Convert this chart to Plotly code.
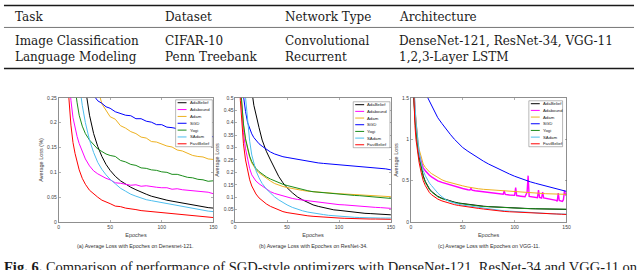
import plotly.graph_objects as go

# ---------------- data ----------------
table_header = ["Task", "Dataset", "Network Type", "Architecture"]
table_row1 = ["Image Classification", "CIFAR-10", "Convolutional", "DenseNet-121, ResNet-34, VGG-11"]
table_row2 = ["Language Modeling", "Penn Treebank", "Recurrent", "1,2,3-Layer LSTM"]

series_names = ["AdaBelief", "Adabound", "Adam", "SGD", "Yogi", "SAdam", "FastBelief"]
series_colors = ["#000000", "#ff00ff", "#edb120", "#0000ff", "#1a8c1a", "#4dbeee", "#ff0000"]

epochs = [1, 2, 3, 4, 5, 6, 7, 8, 10, 12, 14, 16, 18, 20, 23, 26, 30, 34, 38, 42, 46, 50, 55, 60,
          65, 70, 75, 80, 85, 90, 95, 100, 105, 110, 115, 120, 125, 130, 135, 140, 145, 150]

# (a) DenseNet-121
a_adabelief = [3.5,3.0,2.6,2.2,1.9,1.65,1.45,1.3,1.05,0.85,0.7,0.58,0.49,0.42,0.34,0.27,0.215,0.178,0.152,0.132,0.116,0.104,0.092,0.083,0.076,0.070,0.065,0.060,0.056,0.052,0.049,0.046,0.044,0.042,0.040,0.038,0.036,0.034,0.033,0.031,0.029,0.028]
a_adabound = [2.2,1.7,1.3,1.0,0.8,0.62,0.5,0.4,0.3,0.245,0.21,0.188,0.172,0.158,0.142,0.127,0.113,0.103,0.097,0.092,0.088,0.085,0.079,0.078,0.076,0.074,0.075,0.072,0.073,0.071,0.070,0.069,0.069,0.066,0.067,0.065,0.064,0.063,0.062,0.061,0.060,0.057]
a_adam = [3.0,2.6,2.3,2.0,1.8,1.6,1.45,1.3,1.1,0.95,0.82,0.72,0.64,0.57,0.49,0.43,0.36,0.31,0.268,0.238,0.225,0.212,0.207,0.194,0.189,0.182,0.178,0.171,0.169,0.162,0.161,0.157,0.153,0.151,0.145,0.143,0.138,0.134,0.132,0.131,0.127,0.126]
a_sgd = [2.3,2.0,1.8,1.6,1.45,1.3,1.2,1.1,0.95,0.82,0.72,0.63,0.56,0.5,0.43,0.37,0.3,0.255,0.244,0.239,0.232,0.229,0.222,0.219,0.215,0.214,0.208,0.208,0.203,0.201,0.196,0.196,0.191,0.190,0.188,0.188,0.184,0.185,0.180,0.178,0.176,0.171]
a_yogi = [1.8,1.5,1.25,1.05,0.9,0.78,0.68,0.6,0.47,0.38,0.32,0.27,0.24,0.215,0.193,0.178,0.165,0.157,0.147,0.142,0.137,0.134,0.132,0.124,0.121,0.116,0.114,0.109,0.108,0.105,0.104,0.101,0.100,0.096,0.096,0.093,0.090,0.089,0.086,0.085,0.082,0.083]
a_sadam = [3.0,2.5,2.0,1.7,1.4,1.2,1.0,0.85,0.65,0.52,0.43,0.37,0.32,0.28,0.235,0.2,0.165,0.14,0.12,0.106,0.095,0.086,0.077,0.068,0.062,0.056,0.052,0.048,0.045,0.043,0.041,0.039,0.038,0.035,0.034,0.031,0.029,0.028,0.026,0.024,0.022,0.021]
a_fastbelief = [2.0,1.5,1.1,0.85,0.65,0.5,0.42,0.34,0.25,0.195,0.16,0.138,0.12,0.105,0.088,0.076,0.064,0.056,0.05,0.044,0.041,0.037,0.032,0.031,0.028,0.027,0.025,0.023,0.022,0.021,0.019,0.018,0.017,0.016,0.016,0.014,0.013,0.012,0.012,0.011,0.010,0.009]

# (b) ResNet-34
b_adabelief = [2.5,2.2,1.95,1.7,1.5,1.33,1.18,1.05,0.85,0.7,0.6,0.53,0.47,0.43,0.38,0.33,0.285,0.25,0.215,0.183,0.158,0.138,0.118,0.101,0.089,0.078,0.069,0.063,0.058,0.053,0.049,0.047,0.044,0.041,0.039,0.037,0.035,0.034,0.032,0.031,0.030,0.029]
b_adabound = [1.4,1.05,0.82,0.66,0.55,0.47,0.41,0.36,0.295,0.25,0.215,0.19,0.175,0.165,0.154,0.145,0.132,0.122,0.115,0.110,0.105,0.100,0.095,0.091,0.088,0.085,0.082,0.079,0.077,0.074,0.072,0.070,0.069,0.067,0.065,0.063,0.062,0.060,0.059,0.058,0.057,0.055]
b_adam = [1.6,1.2,0.9,0.72,0.58,0.5,0.44,0.39,0.33,0.29,0.26,0.238,0.223,0.211,0.198,0.188,0.176,0.165,0.155,0.148,0.143,0.139,0.134,0.130,0.127,0.124,0.122,0.120,0.119,0.117,0.115,0.114,0.113,0.112,0.111,0.110,0.108,0.107,0.105,0.104,0.104,0.102]
b_sgd = [1.2,1.0,0.86,0.75,0.66,0.59,0.54,0.5,0.445,0.40,0.375,0.355,0.34,0.328,0.315,0.305,0.292,0.282,0.274,0.268,0.263,0.26,0.256,0.253,0.249,0.246,0.241,0.238,0.236,0.234,0.233,0.231,0.229,0.228,0.226,0.224,0.222,0.221,0.219,0.217,0.214,0.210]
b_yogi = [1.6,1.2,0.9,0.72,0.58,0.5,0.44,0.395,0.335,0.295,0.265,0.243,0.228,0.216,0.203,0.193,0.182,0.173,0.165,0.159,0.152,0.147,0.141,0.136,0.131,0.126,0.122,0.120,0.117,0.115,0.113,0.112,0.110,0.109,0.107,0.106,0.104,0.102,0.100,0.099,0.097,0.095]
b_sadam = [2.0,1.6,1.3,1.1,0.92,0.78,0.67,0.59,0.49,0.4,0.325,0.27,0.235,0.207,0.178,0.155,0.133,0.115,0.101,0.089,0.078,0.069,0.059,0.051,0.045,0.040,0.036,0.033,0.030,0.027,0.025,0.023,0.021,0.020,0.019,0.018,0.017,0.017,0.016,0.016,0.016,0.016]
b_fastbelief = [1.3,0.95,0.72,0.58,0.49,0.42,0.36,0.315,0.25,0.205,0.17,0.145,0.127,0.113,0.097,0.085,0.073,0.063,0.055,0.048,0.042,0.038,0.034,0.030,0.027,0.025,0.023,0.021,0.020,0.018,0.017,0.016,0.015,0.014,0.014,0.013,0.013,0.012,0.012,0.012,0.011,0.011]

# (c) VGG-11
c_adabelief = [2.4,1.9,1.5,1.27,1.1,0.97,0.87,0.79,0.66,0.56,0.49,0.44,0.40,0.37,0.34,0.31,0.287,0.27,0.255,0.241,0.23,0.222,0.212,0.204,0.198,0.191,0.186,0.182,0.178,0.175,0.172,0.169,0.166,0.164,0.162,0.160,0.158,0.156,0.155,0.154,0.153,0.152]
c_adabound_epochs = [1,2,3,4,5,6,7,8,10,12,14,16,18,20,23,26,30,34,38,42,46,50,55,57,58,59,62,66,70,75,80,85,89,90,91,95,100,101,102,106,110,112,113,114,118,122,123,124,126,127,128,132,136,140,141,142,143,146,147,148,149,150]
c_adabound = [2.5,1.95,1.58,1.33,1.15,1.01,0.9,0.82,0.72,0.655,0.62,0.59,0.565,0.545,0.52,0.498,0.478,0.462,0.448,0.435,0.421,0.405,0.39,0.388,0.405,0.385,0.378,0.372,0.368,0.362,0.352,0.34,0.335,0.375,0.333,0.327,0.322,0.415,0.32,0.312,0.305,0.36,0.56,0.31,0.3,0.295,0.385,0.297,0.29,0.36,0.29,0.28,0.272,0.262,0.25,0.35,0.26,0.25,0.27,0.38,0.33,0.34]
c_adam = [2.5,2.0,1.62,1.38,1.2,1.06,0.96,0.88,0.77,0.70,0.66,0.63,0.605,0.585,0.56,0.535,0.51,0.49,0.475,0.462,0.45,0.437,0.423,0.41,0.402,0.395,0.39,0.385,0.38,0.376,0.372,0.368,0.363,0.358,0.353,0.348,0.345,0.342,0.34,0.338,0.336,0.334]
c_sgd = [3.5,3.1,2.8,2.55,2.35,2.18,2.04,1.92,1.75,1.63,1.56,1.51,1.46,1.41,1.33,1.26,1.19,1.12,1.06,1.0,0.95,0.9,0.855,0.812,0.77,0.735,0.70,0.668,0.638,0.607,0.58,0.553,0.528,0.506,0.486,0.468,0.452,0.434,0.418,0.402,0.385,0.37]
c_yogi = [2.35,1.85,1.47,1.24,1.07,0.94,0.85,0.77,0.65,0.55,0.48,0.43,0.392,0.363,0.333,0.305,0.282,0.265,0.25,0.237,0.226,0.218,0.208,0.2,0.194,0.188,0.184,0.18,0.176,0.173,0.17,0.168,0.165,0.163,0.161,0.16,0.158,0.157,0.156,0.156,0.155,0.155]
c_sadam = [2.6,2.1,1.7,1.42,1.22,1.07,0.95,0.85,0.72,0.62,0.56,0.51,0.47,0.44,0.39,0.35,0.305,0.268,0.245,0.228,0.215,0.204,0.194,0.185,0.176,0.167,0.158,0.150,0.143,0.136,0.131,0.127,0.123,0.119,0.115,0.110,0.106,0.103,0.100,0.098,0.096,0.095]
c_fastbelief = [2.2,1.75,1.4,1.17,1.0,0.88,0.79,0.72,0.6,0.5,0.44,0.39,0.355,0.33,0.3,0.277,0.255,0.237,0.223,0.21,0.2,0.191,0.182,0.173,0.165,0.157,0.148,0.142,0.136,0.128,0.124,0.120,0.116,0.113,0.110,0.108,0.106,0.103,0.100,0.097,0.094,0.091]

y_titles = ["Average Loss (%)", "Average Loss", "Average Loss"]
x_title = "Epoches"
captions = ["(a) Average Loss with Epoches on Denesnet-121.",
            "(b) Average Loss with Epoches on ResNet-34.",
            "(c) Average Loss with Epoches on VGG-11."]
y_max = [0.25, 0.5, 1.5]
y_dtick = [0.05, 0.05, 0.5]
fig_caption = "<b>Fig. 6.</b> Comparison of performance of SGD-style optimizers with DenseNet-121, ResNet-34 and VGG-11 on CIFAR-10."

panels_x = [
    [(epochs, a_adabelief), (epochs, a_adabound), (epochs, a_adam), (epochs, a_sgd),
     (epochs, a_yogi), (epochs, a_sadam), (epochs, a_fastbelief)],
    [(epochs, b_adabelief), (epochs, b_adabound), (epochs, b_adam), (epochs, b_sgd),
     (epochs, b_yogi), (epochs, b_sadam), (epochs, b_fastbelief)],
    [(epochs, c_adabelief), (c_adabound_epochs, c_adabound), (epochs, c_adam), (epochs, c_sgd),
     (epochs, c_yogi), (epochs, c_sadam), (epochs, c_fastbelief)],
]

# ---------------- layout helpers ----------------
W, H = 640, 270
def px(x): return x / W
def py(y): return 1 - y / H

plot_left = [58, 236, 413]
plot_right = [214, 393, 570]
plot_top, plot_bottom = 97, 224
legend_boxes = [(176, 99, 213, 147), (355, 101, 392, 148), (532, 100, 566, 147)]

fig = go.Figure()
shapes = []
annotations = []

tick_font = dict(family="Liberation Sans, Arial", size=5, color="#404040")
axcol = "#606060"

for p in range(3):
    sfx = "" if p == 0 else str(p + 1)
    for s, (xs, ys) in enumerate(panels_x[p]):
        w = 1.0
        if p == 2 and s == 1:
            w = 1.4
        fig.add_trace(go.Scatter(x=xs, y=ys, mode="lines", name=series_names[s],
                                 line=dict(color=series_colors[s], width=w),
                                 xaxis="x" + sfx, yaxis="y" + sfx, showlegend=False,
                                 hoverinfo="skip"))
    common = dict(showline=True, linecolor=axcol, linewidth=0.7, mirror="ticks",
                  ticks="inside", ticklen=2, tickwidth=0.5, tickcolor=axcol,
                  tickfont=tick_font, showgrid=False, zeroline=False)
    fig.update_layout(**{
        "xaxis" + sfx: dict(domain=[px(plot_left[p]), px(plot_right[p])], range=[0, 150],
                            dtick=50, anchor="y" + sfx,
                            title=dict(text=x_title, standoff=4,
                                       font=dict(family="Liberation Sans, Arial", size=5.5, color="#404040")),
                            **common),
        "yaxis" + sfx: dict(domain=[py(plot_bottom), py(plot_top)], range=[0, y_max[p]],
                            dtick=y_dtick[p], anchor="x" + sfx,
                            title=dict(text=y_titles[p], standoff=3,
                                       font=dict(family="Liberation Sans, Arial", size=5.5, color="#404040")),
                            **common),
    })
    annotations.append(dict(text=captions[p], x=px((plot_left[p] + plot_right[p]) / 2), y=py(249),
                            xref="paper", yref="paper", showarrow=False, xanchor="center", yanchor="middle",
                            font=dict(family="Liberation Sans, Arial", size=5.3, color="#303030")))
    lx0, ly0, lx1, ly1 = legend_boxes[p]
    shapes.append(dict(type="rect", xref="paper", yref="paper", x0=px(lx0), x1=px(lx1), y0=py(ly1), y1=py(ly0),
                       line=dict(color="#707070", width=0.5), fillcolor="white", layer="above"))
    step = (ly1 - ly0 - 6) / 6
    for s in range(7):
        yy = ly0 + 3 + s * step
        shapes.append(dict(type="line", xref="paper", yref="paper", x0=px(lx0 + 2), x1=px(lx0 + 11),
                           y0=py(yy), y1=py(yy), line=dict(color=series_colors[s], width=1.0), layer="above"))
        annotations.append(dict(text=series_names[s], x=px(lx0 + 12), y=py(yy), xref="paper", yref="paper",
                                showarrow=False, xanchor="left", yanchor="middle",
                                font=dict(family="Liberation Sans, Arial", size=4.3, color="#202020")))

# ---------------- table ----------------
col_x = [12, 163, 284, 399]
tfont = dict(family="DejaVu Serif", size=12, color="#1a1a1a")
for c in range(4):
    annotations.append(dict(text=table_header[c], x=px(col_x[c]), y=py(14.5), xref="paper", yref="paper",
                            showarrow=False, xanchor="left", yanchor="middle", align="left", font=tfont))
    annotations.append(dict(text=table_row1[c] + "<br>" + table_row2[c], x=px(col_x[c]), y=py(47),
                            xref="paper", yref="paper", showarrow=False, xanchor="left", yanchor="middle",
                            align="left", font=tfont))
for yy, lw in [(2.5, 1.4), (25, 0.6), (67, 1.4)]:
    shapes.append(dict(type="line", xref="paper", yref="paper", x0=px(3), x1=px(638), y0=py(yy), y1=py(yy),
                       line=dict(color="#1a1a1a", width=lw)))

annotations.append(dict(text=fig_caption, x=px(1), y=py(270), xref="paper", yref="paper", showarrow=False,
                        xanchor="left", yanchor="middle",
                        font=dict(family="Liberation Serif", size=14.5, color="#1a1a1a")))

fig.update_layout(width=W, height=H, autosize=False, margin=dict(l=0, r=0, t=0, b=0),
                  paper_bgcolor="white", plot_bgcolor="white", showlegend=False,
                  shapes=shapes, annotations=annotations)

fig.write_html("out.html", config={"displayModeBar": False, "staticPlot": True},
               post_script="document.body.style.margin='0px';document.body.style.overflow='hidden';")
